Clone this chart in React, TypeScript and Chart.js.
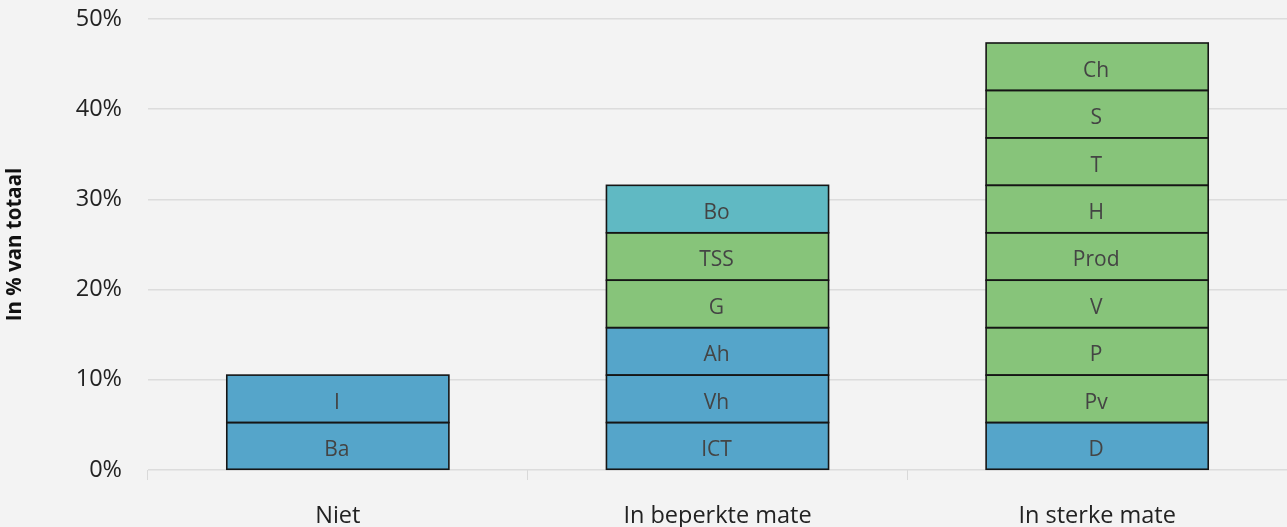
import React, { useEffect, useRef } from "react";
import { Chart, registerables } from "chart.js";

Chart.register(...registerables);

const categories = ["Niet", "In beperkte mate", "In sterke mate"];

const nietSegments = ["Ba", "I"];
const nietValues = [5.26, 5.26];
const nietGroups = ["blue", "blue"];

const beperktSegments = ["ICT", "Vh", "Ah", "G", "TSS", "Bo"];
const beperktValues = [5.26, 5.26, 5.26, 5.26, 5.26, 5.26];
const beperktGroups = ["blue", "blue", "blue", "green", "green", "teal"];

const sterkSegments = ["D", "Pv", "P", "V", "Prod", "H", "T", "S", "Ch"];
const sterkValues = [5.26, 5.26, 5.26, 5.26, 5.26, 5.26, 5.26, 5.26, 5.26];
const sterkGroups = ["blue", "green", "green", "green", "green", "green", "green", "green", "green"];

const yTicks = [0, 10, 20, 30, 40, 50];
const yTitle = "In % van totaal";

const groupColors: Record<string, string> = {
  blue: "#55A5CA",
  green: "#87C47A",
  teal: "#60B9C3",
};

const FONT = "'Open Sans', 'Noto Sans', sans-serif";

function buildDatasets() {
  const all = [
    { cat: 0, labels: nietSegments, values: nietValues, groups: nietGroups },
    { cat: 1, labels: beperktSegments, values: beperktValues, groups: beperktGroups },
    { cat: 2, labels: sterkSegments, values: sterkValues, groups: sterkGroups },
  ];
  const ds: any[] = [];
  all.forEach((c) => {
    c.labels.forEach((lab, i) => {
      const data = categories.map((_, k) => (k === c.cat ? c.values[i] : null));
      ds.push({
        label: lab,
        data,
        backgroundColor: groupColors[c.groups[i]],
        borderWidth: 0,
        stack: "s",
      });
    });
  });
  return ds;
}

const segmentLabelPlugin = {
  id: "segmentLabels",
  afterDatasetsDraw(chart: any) {
    const ctx = chart.ctx;
    ctx.save();
    ctx.strokeStyle = "#151515";
    ctx.lineWidth = 1.6;
    chart.data.datasets.forEach((d: any, di: number) => {
      const meta = chart.getDatasetMeta(di);
      meta.data.forEach((el: any, idx: number) => {
        if (d.data[idx] == null) return;
        const half = el.width / 2;
        const top = Math.min(el.y, el.base);
        const h = Math.abs(el.base - el.y);
        ctx.strokeRect(el.x - half, top, el.width, h);
      });
    });
    ctx.font = `21px ${FONT}`;
    ctx.fillStyle = "#444444";
    ctx.textAlign = "center";
    ctx.textBaseline = "middle";
    chart.data.datasets.forEach((d: any, di: number) => {
      const meta = chart.getDatasetMeta(di);
      meta.data.forEach((el: any, idx: number) => {
        if (d.data[idx] == null) return;
        ctx.fillText(d.label, el.x - 1, (el.y + el.base) / 2 + 4);
      });
    });
    ctx.restore();
  },
};

export default function App() {
  const ref = useRef<HTMLCanvasElement>(null);
  useEffect(() => {
    if (!ref.current) return;
    const chart = new Chart(ref.current, {
      type: "bar",
      data: { labels: categories, datasets: buildDatasets() },
      plugins: [segmentLabelPlugin],
      options: {
        animation: false,
        responsive: false,
        maintainAspectRatio: false,
        layout: { padding: { top: 19, bottom: 0, left: 0, right: 0 } },
        plugins: { legend: { display: false }, tooltip: { enabled: false } },
        datasets: { bar: { categoryPercentage: 1, barPercentage: 0.585 } },
        scales: {
          x: {
            stacked: true,
            offset: true,
            afterFit(scale: any) {
              scale.height = 57;
              scale.paddingLeft = 0;
              scale.paddingRight = 0;
            },
            grid: { offset: true, drawOnChartArea: false, tickLength: 10, color: "#d9d9d9", lineWidth: 1 },
            border: { display: false },
            ticks: { color: "#222222", font: { family: FONT, size: 23.5 }, padding: 22 },
          },
          y: {
            stacked: true,
            min: 0,
            max: 50,
            afterBuildTicks(scale: any) {
              scale.ticks = yTicks.map((v) => ({ value: v }));
            },
            afterFit(scale: any) {
              scale.width = 148;
              scale.paddingTop = 0;
              scale.paddingBottom = 0;
            },
            grid: { drawTicks: false, color: "#dcdcdc", lineWidth: 1.5 },
            border: { display: false },
            ticks: {
              color: "#222222",
              font: { family: FONT, size: 23.5 },
              padding: 26,
              callback: (v: any) => `${v}%`,
            },
            title: {
              display: true,
              text: yTitle,
              color: "#111111",
              font: { family: FONT, size: 20.5, weight: "bold" },
              padding: { top: 3, bottom: 0 },
            },
          },
        },
      },
    });
    return () => chart.destroy();
  }, []);
  return (
    <div style={{ position: "fixed", left: 0, top: 0, width: 1287, height: 527, background: "#f3f3f3" }}>
      <canvas ref={ref} width={1287} height={527} style={{ display: "block" }} />
    </div>
  );
}
